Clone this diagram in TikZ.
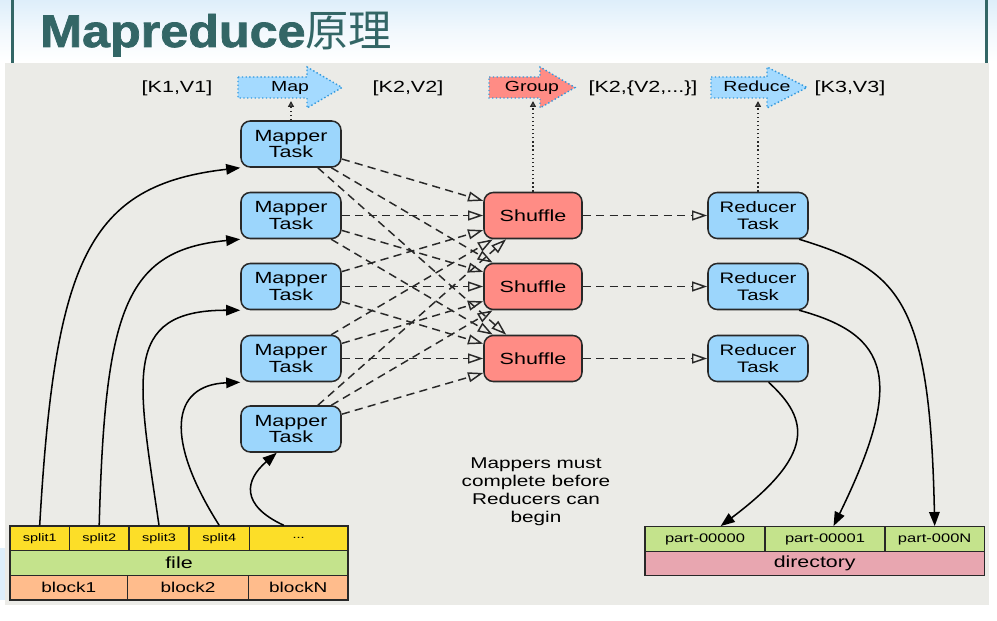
\documentclass[tikz,border=0pt]{standalone}
\usepackage{fontspec}
\setmainfont{Liberation Sans}[FakeStretch=1.33]
\newfontfamily\titlefont{Liberation Sans}[FakeStretch=1.1, BoldFeatures={FakeBold=1.6}]
\newfontfamily\cjkfont{Noto Sans CJK SC}
\usetikzlibrary{arrows.meta}

\definecolor{titleteal}{RGB}{51,102,102}
\definecolor{bandblue}{RGB}{222,238,250}
\definecolor{panelgray}{RGB}{235,235,231}
\definecolor{taskblue}{RGB}{156,214,252}
\definecolor{shufred}{RGB}{255,140,133}
\definecolor{flowblue}{RGB}{164,218,255}
\definecolor{dotblue}{RGB}{51,153,221}
\definecolor{splityellow}{RGB}{252,222,40}
\definecolor{filegreen}{RGB}{196,227,140}
\definecolor{blockpeach}{RGB}{255,188,140}
\definecolor{dirpink}{RGB}{232,166,176}
\definecolor{linegray}{RGB}{40,40,40}

\begin{document}
\begin{tikzpicture}[
  x=0.03cm, y=-0.03cm,
  task/.style={draw=linegray, line width=1.3pt, rounded corners=0.28cm, fill=taskblue,
    minimum width=3cm, minimum height=1.38cm, inner sep=0pt, align=center,
    font=\fontsize{13.8}{14.4}\selectfont},
  shuf/.style={task, fill=shufred, minimum width=2.94cm},
  flow/.style={fill=flowblue, draw=dotblue, line width=1.2pt, dash pattern=on 1.2pt off 2pt},
  cell/.style={draw=linegray, line width=1.1pt, inner sep=0pt},
  lbl/.style={inner sep=0pt, font=\fontsize{13.8}{15}\selectfont},
  dsh/.style={draw=linegray, line width=1.25pt, dash pattern=on 7pt off 4.5pt,
    -{Triangle[open, length=13pt, width=8.5pt]}},
  dtt/.style={draw=linegray, line width=1.2pt, dash pattern=on 1.1pt off 2.4pt,
    -{Triangle[open, length=5pt, width=5pt]}},
  feed/.style={draw=black, line width=1.3pt, -{Triangle[length=12pt, width=9pt]}},
]

\useasboundingbox (0,0) rectangle (997,621);
\fill [white] (0,0) rectangle (997,621);
\shade [top color=bandblue, bottom color=white, middle color=white!60!bandblue] (0,0) rectangle (997,62);
\fill [titleteal] (11,0) rectangle (14,63);
\fill [titleteal] (985,0) rectangle (988,63);
\fill [panelgray] (5,63) rectangle (989,605);
\fill [bandblue] (0,548) rectangle (5,600);

\node [anchor=base west, inner sep=0pt, text=titleteal] (title) at (40,47)
  {\titlefont\bfseries\fontsize{39}{40}\selectfont Mapreduce\cjkfont\mdseries\fontsize{37}{40}\selectfont 原理};

\path [flow] (238,77) -- (307,77) -- (307,67) -- (342,87.5) -- (307,108) -- (307,98) -- (238,98) -- cycle;
\path [flow, fill=shufred] (489,77) -- (540,77) -- (540,67) -- (575,87.5) -- (540,108) -- (540,98) -- (489,98) -- cycle;
\path [flow] (711,77) -- (767,77) -- (767,67) -- (807,87.5) -- (767,108) -- (767,98) -- (711,98) -- cycle;
\node [lbl, anchor=base, font=\fontsize{12.5}{14}\selectfont] (map) at (290,92) {Map};
\node [lbl, anchor=base, font=\fontsize{12.5}{14}\selectfont] (group) at (532,92) {Group};
\node [lbl, anchor=base, font=\fontsize{12.5}{14}\selectfont] (reduce) at (757,92) {Reduce};
\node [lbl, anchor=base] (kv1) at (177,93) {[K1,V1]};
\node [lbl, anchor=base] (kv2) at (408,93) {[K2,V2]};
\node [lbl, anchor=base] (kvs) at (643,93) {[K2,\{V2,...\}]};
\node [lbl, anchor=base] (kv3) at (850,93) {[K3,V3]};

\node [task] (m1) at (291,144) {Mapper\\Task};
\node [task] (m2) at (291,215.5) {Mapper\\Task};
\node [task] (m3) at (291,286.5) {Mapper\\Task};
\node [task] (m4) at (291,358.5) {Mapper\\Task};
\node [task] (m5) at (291,429) {Mapper\\Task};

\node [shuf] (s1) at (533,215.5) {Shuffle};
\node [shuf] (s2) at (533,286.5) {Shuffle};
\node [shuf] (s3) at (533,358.5) {Shuffle};

\node [task, font=\fontsize{13}{14.4}\selectfont] (r1) at (758,215.5) {Reducer\\Task};
\node [task, font=\fontsize{13}{14.4}\selectfont] (r2) at (758,286.5) {Reducer\\Task};
\node [task, font=\fontsize{13}{14.4}\selectfont] (r3) at (758,358.5) {Reducer\\Task};

\node [lbl, align=center, font=\fontsize{13.3}{15.4}\selectfont] (note) at (536,491.5)
  {Mappers must\\complete before\\Reducers can\\begin};

\node [cell, fill=splityellow, minimum width=1.78cm, minimum height=0.74cm, font=\fontsize{9.3}{10}\selectfont] (sp1) at (39.7,538.3) {split1};
\node [cell, fill=splityellow, minimum width=1.79cm, minimum height=0.74cm, font=\fontsize{9.3}{10}\selectfont] (sp2) at (99.2,538.3) {split2};
\node [cell, fill=splityellow, minimum width=1.8cm, minimum height=0.74cm, font=\fontsize{9.3}{10}\selectfont] (sp3) at (159,538.3) {split3};
\node [cell, fill=splityellow, minimum width=1.81cm, minimum height=0.74cm, font=\fontsize{9.3}{10}\selectfont] (sp4) at (219.2,538.3) {split4};
\node [cell, fill=splityellow, minimum width=2.96cm, minimum height=0.74cm, font=\fontsize{9.3}{10}\selectfont] (sp5) at (298.7,538.3) {...};
\node [cell, fill=filegreen, minimum width=10.14cm, minimum height=0.75cm, font=\fontsize{13.8}{14}\selectfont] (file) at (179,563.2) {file};
\node [cell, fill=blockpeach, minimum width=3.53cm, minimum height=0.73cm, font=\fontsize{12.2}{13}\selectfont] (b1) at (68.8,587.8) {block1};
\node [cell, fill=blockpeach, minimum width=3.62cm, minimum height=0.73cm, font=\fontsize{12.2}{13}\selectfont] (b2) at (188,587.8) {block2};
\node [cell, fill=blockpeach, minimum width=2.99cm, minimum height=0.73cm, font=\fontsize{12.2}{13}\selectfont] (b3) at (298.2,587.8) {blockN};

\node [cell, fill=filegreen, minimum width=3.6cm, minimum height=0.75cm, font=\fontsize{10.6}{12}\selectfont] (p1) at (705,539.2) {part-00000};
\node [cell, fill=filegreen, minimum width=3.6cm, minimum height=0.75cm, font=\fontsize{10.6}{12}\selectfont] (p2) at (825,539.2) {part-00001};
\node [cell, fill=filegreen, minimum width=2.98cm, minimum height=0.75cm, font=\fontsize{10.6}{12}\selectfont] (p3) at (934.7,539.2) {part-000N};
\node [cell, fill=dirpink, minimum width=10.18cm, minimum height=0.72cm, font=\fontsize{13.7}{14}\selectfont] (dir) at (814.7,563.7) {directory};

\coordinate (mapin) at (291,101);
\coordinate (groupin) at (533,101);
\coordinate (reducein) at (758,101);
\draw [dtt] (m1) -- (mapin);
\draw [dtt] (s1) -- (groupin);
\draw [dtt] (r1) -- (reducein);

\draw [dsh] (m1) -- (s1);
\draw [dsh] (m1) -- (s2);
\draw [dsh] (m1) -- (s3);
\draw [dsh] (m2) -- (s1);
\draw [dsh] (m2) -- (s2);
\draw [dsh] (m2) -- (s3);
\draw [dsh] (m3) -- (s1);
\draw [dsh] (m3) -- (s2);
\draw [dsh] (m3) -- (s3);
\draw [dsh] (m4) -- (s1);
\draw [dsh] (m4) -- (s2);
\draw [dsh] (m4) -- (s3);
\draw [dsh] (m5) -- (s1);
\draw [dsh] (m5) -- (s2);
\draw [dsh] (m5) -- (s3);

\draw [dsh] (s1) -- (r1);
\draw [dsh] (s2) -- (r2);
\draw [dsh] (s3) -- (r3);

\draw [feed] (sp1.north) .. controls (55,260) and (88,185) .. (m1.south west);
\draw [feed] (sp2.north) .. controls (105,310) and (125,250) .. (m2.south west);
\draw [feed] (sp3.north) .. controls (138,380) and (120,310) .. (m3.south west);
\draw [feed] (sp4.north) .. controls (165,440) and (170,385) .. (m4.south west);
\draw [feed] (sp5.139) .. controls (240,505) and (245,480) .. (m5.239);

\draw [feed] (r1.-30) .. controls (900,270) and (930,300) .. (p3.north);
\draw [feed] (r2.-30) .. controls (890,335) and (905,380) .. (p2.57);
\draw [feed] (r3.-66) .. controls (810,420) and (815,455) .. (p1.40);

\end{tikzpicture}
\end{document}
